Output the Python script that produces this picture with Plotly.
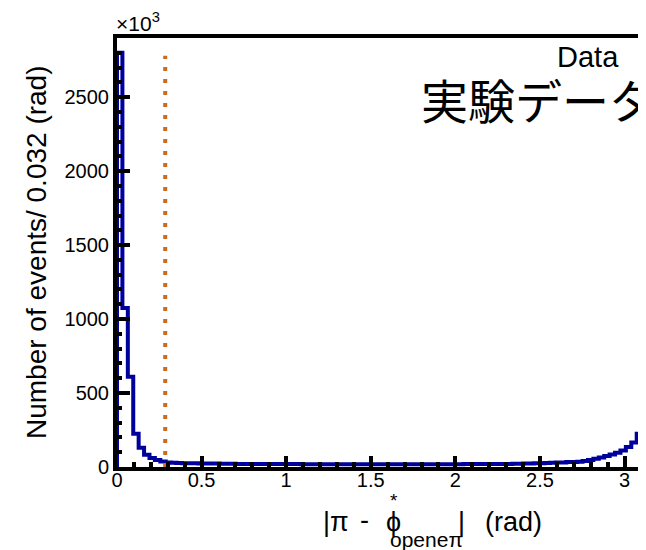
import plotly.graph_objects as go

# ---- data (units of 10^3 events per 0.032 rad bin) ----
bin_width = 0.032
n_bins = 100
bin_edges = [round(i * bin_width, 4) for i in range(n_bins + 1)]
counts = [
    2800, 1075, 610, 225, 130, 82, 60, 47, 37, 30,
    28, 27, 26, 25, 25, 24, 24, 23, 23, 22,
    22, 22, 21, 21, 21, 21, 20, 20, 20, 20,
    20, 20, 20, 20, 19, 19, 19, 19, 19, 19,
    19, 19, 19, 19, 19, 19, 19, 19, 19, 19,
    19, 19, 19, 19, 19, 19, 19, 19, 19, 19,
    19, 19, 19, 19, 20, 20, 20, 20, 20, 20,
    20, 21, 21, 22, 22, 23, 24, 25, 26, 27,
    28, 30, 31, 33, 34, 35, 40, 48, 56, 65,
    74, 85, 96, 112, 135, 165, 225, 295, 400, 560,
]
cut_x = 0.285
cut_top = 2780
x_range = [0, 3.127]
y_range = [0, 2900]
y_ticks = [0, 500, 1000, 1500, 2000, 2500]
x_ticks = [0, 0.5, 1, 1.5, 2, 2.5, 3]
x_ticklabels = ["0", "0.5", "1", "1.5", "2", "2.5", "3"]

blue = "#00009c"
orange = "#cc6a22"
font = "Liberation Sans, Arial, sans-serif"

xs = [bin_edges[0]] + bin_edges
ys = [0] + counts + [counts[-1]]

fig = go.Figure()
fig.add_trace(go.Scatter(x=xs, y=ys, mode="lines", line=dict(color=blue, width=4, shape="hv"),
                         hoverinfo="skip", showlegend=False))
fig.add_trace(go.Scatter(x=[cut_x, cut_x], y=[0, cut_top], mode="lines",
                         line=dict(color=orange, width=4, dash="4px,8px"),
                         hoverinfo="skip", showlegend=False))

FW, FH = 638, 542
L, T, B = 109, 30, 83
W = FW - L
H = FH - T - B
fig.update_layout(
    width=FW, height=FH,
    margin=dict(l=L, r=0, t=T, b=B),
    paper_bgcolor="white", plot_bgcolor="white",
    font=dict(family=font, color="black", size=20),
    showlegend=False,
)
fig.update_xaxes(
    range=x_range, tickvals=x_ticks, ticktext=x_ticklabels,
    showgrid=False, zeroline=False, showline=True, linecolor="black", linewidth=4, mirror=True,
    ticks="inside", ticklen=11, tickwidth=4, tickcolor="black",
    minor=dict(dtick=0.1, ticks="inside", ticklen=5, tickwidth=4, tickcolor="black", showgrid=False),
    tickfont=dict(size=20), ticklabelstandoff=-8, fixedrange=True,
)
fig.update_yaxes(
    range=y_range, tickvals=y_ticks,
    showgrid=False, zeroline=False, showline=True, linecolor="black", linewidth=4, mirror=False,
    ticks="inside", ticklen=13, tickwidth=4, tickcolor="black",
    minor=dict(dtick=100, ticks="inside", ticklen=5, tickwidth=4, tickcolor="black", showgrid=False),
    tickfont=dict(size=20), fixedrange=True,
)

OFF = 8  # page offset of the figure inside the browser window
def px(x):
    return (x - OFF - L) / W
def py(y):
    return (T + H - (y - OFF)) / H

def note(text, x, y, size, xanchor="center", yanchor="middle", **kw):
    fig.add_annotation(text=text, xref="paper", yref="paper", x=px(x), y=py(y),
                       xanchor=xanchor, yanchor=yanchor, showarrow=False,
                       font=dict(size=size, family=kw.pop("family", font)), **kw)

note("×10<sup>3</sup>", 114, 22, 21, xanchor="left")
note("Data", 588, 57, 29)
note("実験データ", 419, 99, 47, xanchor="left", family="Noto Sans CJK JP")
note("Number of events/ 0.032 (rad)", 36, 252, 28, textangle=-90)
note("|π", 321, 522, 27, xanchor="left")
note("-", 364, 520, 27)
note("ϕ", 393, 522, 27)
note("*", 394, 500, 19)
note("openeπ", 388, 539, 21, xanchor="left")
note("|", 461, 522, 27)
note("(rad)", 483, 522, 27, xanchor="left")

fig.write_html("out.html")
